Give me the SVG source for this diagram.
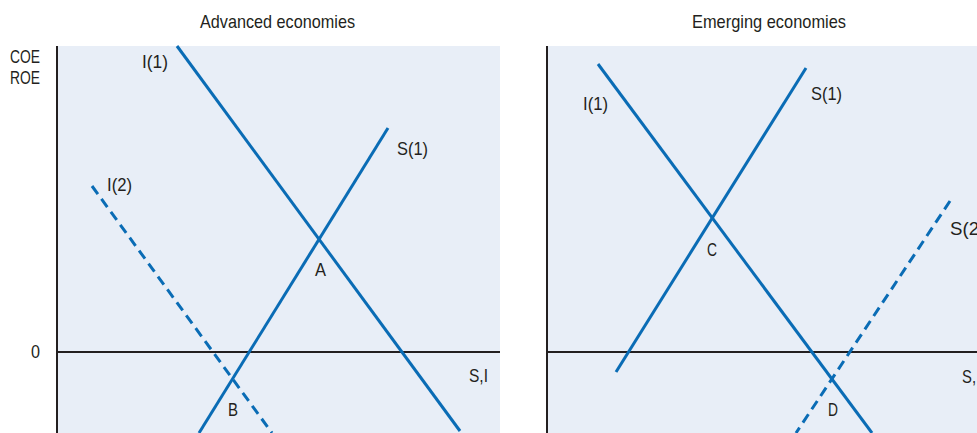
<svg xmlns="http://www.w3.org/2000/svg" width="977" height="433" viewBox="0 0 977 433">
<style>
.bg{fill:#e8eef7}
.ax{stroke:#231f20;stroke-width:2;fill:none}
.cv{stroke:#0a6cb5;stroke-width:3;fill:none}
.ds{stroke-dasharray:10 6}
text{font-family:"Liberation Sans",Arial,sans-serif;font-size:18.5px;fill:#231f20}
.t{text-anchor:middle}
</style>
<g id="panel-advanced">
<rect class="bg" x="56" y="46" width="444" height="387"/>
<text x="200" y="28" textLength="155" lengthAdjust="spacingAndGlyphs">Advanced economies</text>
<text x="10" y="63" textLength="30" lengthAdjust="spacingAndGlyphs">COE</text>
<text x="10" y="84" textLength="30" lengthAdjust="spacingAndGlyphs">ROE</text>
<text x="31" y="358" textLength="9" lengthAdjust="spacingAndGlyphs">0</text>
</g>
<g id="panel-emerging">
<rect class="bg" x="547" y="46" width="430" height="387"/>
<text x="692" y="28" textLength="154" lengthAdjust="spacingAndGlyphs">Emerging economies</text>
</g>
<g id="connectors">
<line class="ax" x1="57" y1="46" x2="57" y2="433"/>
<line class="ax" x1="56" y1="352" x2="500" y2="352"/>
<line class="ax" x1="547" y1="46" x2="547" y2="433"/>
<line class="ax" x1="547" y1="352" x2="977" y2="352"/>
<line id="adv-I1" class="cv" x1="177" y1="46" x2="460" y2="431"/>
<line id="adv-S1" class="cv" x1="388" y1="128" x2="199" y2="433"/>
<line id="adv-I2" class="cv ds" x1="92" y1="186" x2="272" y2="433"/>
<line id="em-I1" class="cv" x1="598" y1="64" x2="872" y2="433"/>
<line id="em-S1" class="cv" x1="806" y1="68" x2="616" y2="372"/>
<line id="em-S2" class="cv ds" x1="950" y1="201" x2="796" y2="433"/>
</g>
<g id="labels-advanced">
<text x="142" y="68" textLength="26" lengthAdjust="spacingAndGlyphs">I(1)</text>
<text x="397" y="155" textLength="31" lengthAdjust="spacingAndGlyphs">S(1)</text>
<text x="107" y="191" textLength="25" lengthAdjust="spacingAndGlyphs">I(2)</text>
<text x="315" y="276" textLength="11" lengthAdjust="spacingAndGlyphs">A</text>
<text x="469" y="382" textLength="19" lengthAdjust="spacingAndGlyphs">S,I</text>
<text x="228" y="416" textLength="10" lengthAdjust="spacingAndGlyphs">B</text>
</g>
<g id="labels-emerging">
<text x="583" y="110" textLength="25" lengthAdjust="spacingAndGlyphs">I(1)</text>
<text x="811" y="100" textLength="31" lengthAdjust="spacingAndGlyphs">S(1)</text>
<text x="707" y="256" textLength="10" lengthAdjust="spacingAndGlyphs">C</text>
<text x="950" y="235" textLength="29" lengthAdjust="spacingAndGlyphs">S(2</text>
<text x="962" y="383" textLength="14" lengthAdjust="spacingAndGlyphs">S,</text>
<text x="828" y="416" textLength="10" lengthAdjust="spacingAndGlyphs">D</text>
</g>
</svg>
